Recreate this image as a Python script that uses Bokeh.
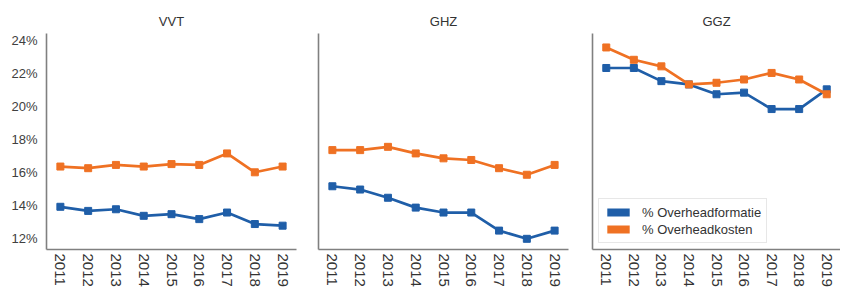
import math
from bokeh.plotting import figure
from bokeh.layouts import row
from bokeh.models import Range1d, FixedTicker, Legend, LegendItem, ColumnDataSource
from bokeh.embed import file_html
from bokeh.resources import INLINE

years = [2011, 2012, 2013, 2014, 2015, 2016, 2017, 2018, 2019]
panels = ["VVT", "GHZ", "GGZ"]

formatie = {
    "VVT": [13.9, 13.65, 13.75, 13.35, 13.45, 13.15, 13.55, 12.85, 12.75],
    "GHZ": [15.15, 14.95, 14.45, 13.85, 13.55, 13.55, 12.45, 11.95, 12.45],
    "GGZ": [22.35, 22.35, 21.55, 21.35, 20.75, 20.85, 19.85, 19.85, 21.05],
}
kosten = {
    "VVT": [16.35, 16.25, 16.45, 16.35, 16.5, 16.45, 17.15, 16.0, 16.35],
    "GHZ": [17.35, 17.35, 17.55, 17.15, 16.85, 16.75, 16.25, 15.85, 16.45],
    "GGZ": [23.6, 22.85, 22.45, 21.35, 21.45, 21.65, 22.05, 21.65, 20.75],
}
series_labels = ["% Overheadformatie", "% Overheadkosten"]

y_ticks = [12, 14, 16, 18, 20, 22, 24]
y_tick_labels = ["12%", "14%", "16%", "18%", "20%", "22%", "24%"]

BLUE = "#1f5ea8"
ORANGE = "#ef7123"
FONT = "Liberation Sans"

layout_spec = {
    "VVT": dict(left=46, fw=250, right=11),
    "GHZ": dict(left=11, fw=250, right=12),
    "GGZ": dict(left=12, fw=248, right=0),
}

figs = []
for name in panels:
    spec = layout_spec[name]
    p = figure(
        output_backend="svg", toolbar_location=None,
        frame_width=spec["fw"], frame_height=216,
        min_border_left=spec["left"], min_border_right=spec["right"],
        min_border_top=33, min_border_bottom=38,
        x_range=Range1d(2010.5, 2019.5), y_range=Range1d(11.3, 24.45),
        title=name,
    )
    p.title.align = "center"
    p.title.text_font = FONT
    p.title.text_font_size = "13px"
    p.title.text_font_style = "normal"
    p.title.text_color = "#333333"
    p.title.standoff = 10
    p.outline_line_color = None
    p.xgrid.visible = False
    p.ygrid.visible = False
    p.background_fill_color = "white"
    p.border_fill_color = "white"

    p.xaxis.ticker = FixedTicker(ticks=years)
    p.xaxis.major_label_orientation = "vertical"
    p.xaxis.major_label_text_font = FONT
    p.xaxis.major_label_text_font_size = "15px"
    p.xaxis.major_label_text_color = "#333333"
    p.xaxis.major_label_standoff = 4

    if name == "VVT":
        p.yaxis.ticker = FixedTicker(ticks=y_ticks)
        p.yaxis.major_label_overrides = {t: l for t, l in zip(y_ticks, y_tick_labels)}
        p.yaxis.major_label_text_font = FONT
        p.yaxis.major_label_text_font_size = "13px"
        p.yaxis.major_label_text_color = "#404040"
        p.yaxis.major_label_standoff = 9
    else:
        p.yaxis.ticker = FixedTicker(ticks=[])
        p.yaxis.major_label_standoff = 0

    for ax in (p.xaxis, p.yaxis):
        ax.axis_line_color = "#808080"
        ax.axis_line_width = 1.6
        ax.major_tick_out = 0
        ax.major_tick_in = 0
        ax.minor_tick_out = 0
        ax.minor_tick_in = 0

    src = ColumnDataSource(dict(x=years, f=formatie[name], k=kosten[name]))
    p.line("x", "f", source=src, line_color=BLUE, line_width=2.7)
    p.scatter("x", "f", source=src, marker="square", size=7, fill_color=BLUE, line_color=BLUE)
    p.line("x", "k", source=src, line_color=ORANGE, line_width=2.7)
    p.scatter("x", "k", source=src, marker="square", size=7, fill_color=ORANGE, line_color=ORANGE)

    if name == "GGZ":
        nan = float("nan")
        swatch = ColumnDataSource(dict(l=[nan], r=[nan], b=[nan], t=[nan]))
        rb = p.quad(left="l", right="r", bottom="b", top="t", source=swatch,
                    fill_color=BLUE, line_color=None)
        ro = p.quad(left="l", right="r", bottom="b", top="t", source=swatch,
                    fill_color=ORANGE, line_color=None)
        legend = Legend(
            items=[LegendItem(label=series_labels[0], renderers=[rb]),
                   LegendItem(label=series_labels[1], renderers=[ro])],
            location="bottom_left",
        )
        legend.margin = 6
        legend.padding = 5
        legend.spacing = 1
        legend.glyph_width = 28
        legend.glyph_height = 10
        legend.label_height = 16
        legend.label_standoff = 10
        legend.label_text_font = FONT
        legend.label_text_font_size = "13px"
        legend.label_text_color = "#333333"
        legend.border_line_color = "#d0d0d0"
        legend.border_line_width = 1
        legend.background_fill_color = "white"
        legend.background_fill_alpha = 0.9
        p.add_layout(legend)
    figs.append(p)

layout = row(*figs)
open("out.html", "w").write(file_html(layout, INLINE))
